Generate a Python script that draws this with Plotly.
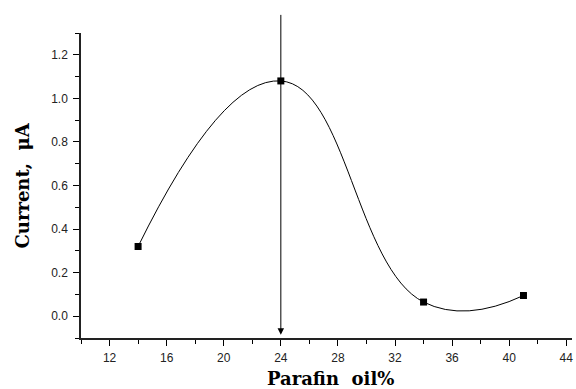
import plotly.graph_objects as go

parafin_oil = [14, 24, 34, 41]
current_uA = [0.32, 1.08, 0.065, 0.095]
arrow_x = 24
arrow_top = 1.39
arrow_tip = -0.085

fig = go.Figure()
fig.add_trace(go.Scatter(
    x=parafin_oil, y=current_uA, mode="lines+markers",
    line=dict(color="black", width=1, shape="spline", smoothing=1.3),
    marker=dict(symbol="square", size=7, color="black"),
    showlegend=False, cliponaxis=False,
))

fig.add_annotation(
    x=arrow_x, y=arrow_tip, ax=arrow_x, ay=arrow_top,
    xref="x", yref="y", axref="x", ayref="y",
    showarrow=True, arrowhead=2, arrowsize=1.3, arrowwidth=1, arrowcolor="black",
    text="",
)

tickfont = dict(family="Liberation Sans, Arial, sans-serif", size=12, color="#222")
titlefont = dict(family="DejaVu Serif, serif", size=18, color="black")

fig.add_annotation(
    text="<b>Current,  μA</b>", xref="paper", yref="paper", x=0, y=0.5,
    xanchor="center", yanchor="middle", xshift=-59, textangle=-90,
    showarrow=False, font=titlefont,
)
fig.add_annotation(
    text="<b>Parafin  oil%</b>", xref="paper", yref="paper", x=0.5, y=0,
    xanchor="center", yanchor="middle", yshift=-40, xshift=4,
    showarrow=False, font=titlefont,
)

fig.update_layout(
    width=576, height=389,
    margin=dict(l=81, r=4, t=33, b=51, autoexpand=False),
    paper_bgcolor="white", plot_bgcolor="white",
    xaxis=dict(
        range=[10, 44.4], tick0=12, dtick=4, ticks="outside", ticklen=6, tickwidth=1,
        tickcolor="black", showline=True, linecolor="#222", linewidth=1.5,
        showgrid=False, zeroline=False, tickfont=tickfont, automargin=False,
        ticklabelstandoff=2,
        minor=dict(ticks="outside", ticklen=4, tickwidth=1, tick0=10, dtick=2, tickcolor="black", showgrid=False),
    ),
    yaxis=dict(
        range=[-0.1, 1.3], tick0=0, dtick=0.2, tickformat=".1f", ticks="outside",
        ticklen=6, tickwidth=1, tickcolor="black", showline=True, linecolor="#222",
        linewidth=1.5, showgrid=False, zeroline=False, tickfont=tickfont, automargin=False,
        ticklabelstandoff=3,
        minor=dict(ticks="outside", ticklen=4, tickwidth=1, tick0=-0.1, dtick=0.1, tickcolor="black", showgrid=False),
    ),
)

fig.write_html(
    "out.html",
    config={"displayModeBar": False},
    post_script="document.body.style.margin='0';document.body.style.overflow='hidden';",
)
